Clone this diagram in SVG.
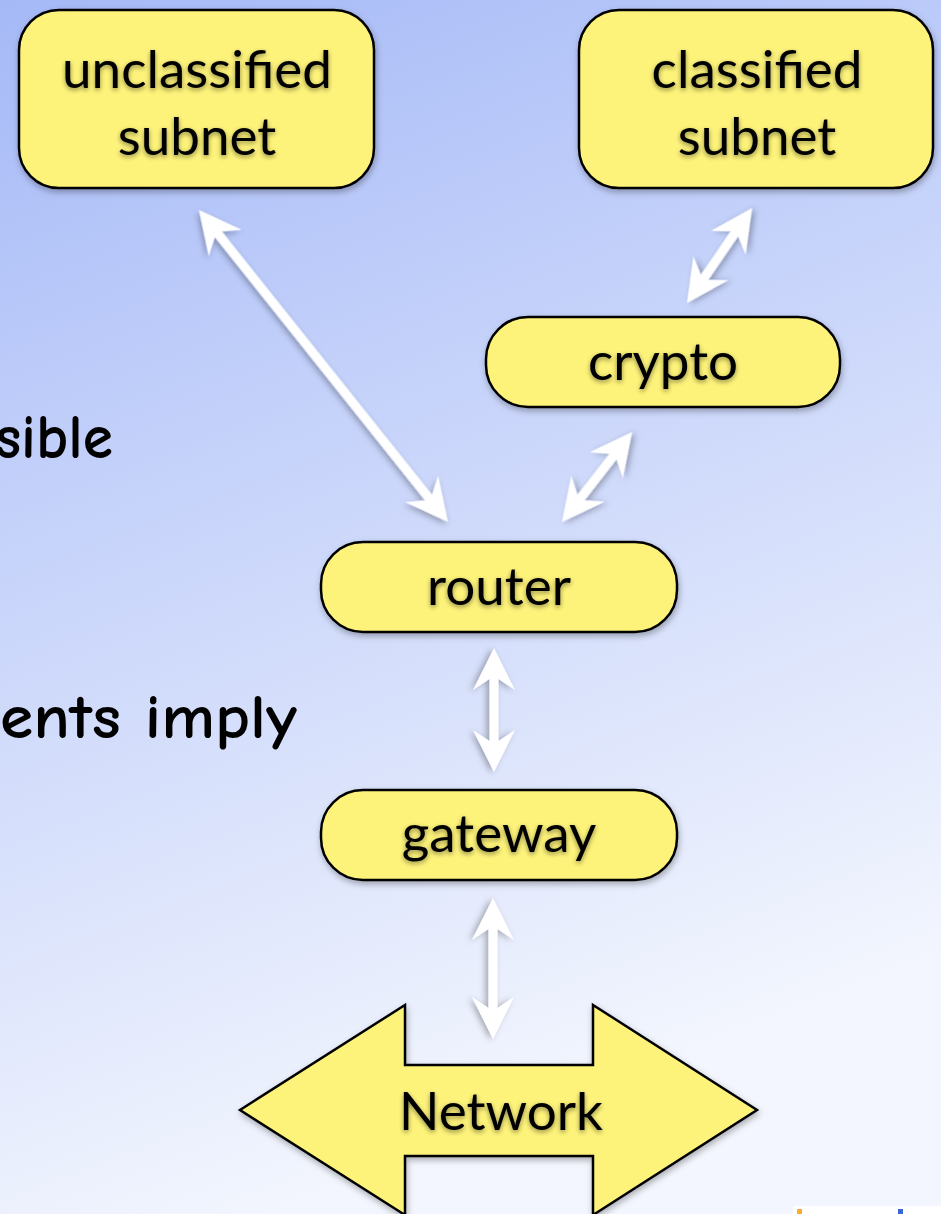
<svg xmlns="http://www.w3.org/2000/svg" width="941" height="1214" viewBox="0 0 941 1214">
  <defs>
    <linearGradient id="bg" x1="0" y1="0" x2="0.3" y2="1">
      <stop offset="0" stop-color="#a5b9f7"/>
      <stop offset="1" stop-color="#f3f6fe"/>
    </linearGradient>
    <filter id="shadow" x="-20%" y="-20%" width="140%" height="140%">
      <feDropShadow dx="1" dy="3" stdDeviation="3" flood-color="#000" flood-opacity="0.3"/>
    </filter>
    <filter id="tshadow" x="-10%" y="-20%" width="120%" height="150%">
      <feDropShadow dx="0" dy="2" stdDeviation="2.5" flood-color="#000" flood-opacity="0.45"/>
    </filter>
  </defs>
  <style>
    .node { fill: #fef37a; stroke: #000; stroke-width: 2.5; filter: url(#shadow); }
    .label { font-family: Lato, "Open Sans", sans-serif; font-size: 53px; fill: #000; text-anchor: middle; filter: url(#tshadow); }
    .side { font-family: "Comic Sans MS", "Comic Neue", Lato, sans-serif; font-size: 63px; font-weight: bold; fill: #000; }
    .arrow { fill: #fff; filter: url(#shadow); }
  </style>
  <rect x="0" y="0" width="941" height="1214" fill="url(#bg)"/>

  <text class="side" x="-5" y="458" textLength="118" lengthAdjust="spacingAndGlyphs">sible</text>
  <text class="side" x="0" y="738" textLength="297" lengthAdjust="spacingAndGlyphs">ents imply</text>

  <g id="connectors">
    <path class="arrow" transform="translate(199,210) rotate(51.4)" d="M0,0 L42,-21 L31,-4.5 L368,-4.5 L357,-21 L399,0 L357,21 L368,4.5 L31,4.5 L42,21 Z"/>
    <path class="arrow" transform="translate(687,303) rotate(-55.6)" d="M0,0 L42,-21 L31,-4.5 L84,-4.5 L73,-21 L115,0 L73,21 L84,4.5 L31,4.5 L42,21 Z"/>
    <path class="arrow" transform="translate(562,522) rotate(-52.1)" d="M0,0 L42,-21 L31,-4.5 L83,-4.5 L72,-21 L114,0 L72,21 L83,4.5 L31,4.5 L42,21 Z"/>
    <path class="arrow" transform="translate(494,648) rotate(90)" d="M0,0 L42,-21 L31,-4.5 L93,-4.5 L82,-21 L124,0 L82,21 L93,4.5 L31,4.5 L42,21 Z"/>
    <path class="arrow" transform="translate(493,898) rotate(90)" d="M0,0 L42,-21 L31,-4.5 L110,-4.5 L99,-21 L141,0 L99,21 L110,4.5 L31,4.5 L42,21 Z"/>
  </g>

  <g id="unclassified">
    <rect class="node" x="19" y="10" width="355" height="178" rx="40" ry="40"/>
    <text class="label" x="197" y="88">unclassified</text>
    <text class="label" x="197" y="155">subnet</text>
  </g>

  <g id="classified">
    <rect class="node" x="579" y="10" width="354" height="178" rx="40" ry="40"/>
    <text class="label" x="757" y="88">classified</text>
    <text class="label" x="757" y="155">subnet</text>
  </g>

  <g id="crypto">
    <rect class="node" x="486" y="317" width="354" height="90" rx="42" ry="42"/>
    <text class="label" x="663" y="380">crypto</text>
  </g>

  <g id="router">
    <rect class="node" x="321" y="542" width="356" height="90" rx="42" ry="42"/>
    <text class="label" x="499" y="605">router</text>
  </g>

  <g id="gateway">
    <rect class="node" x="321" y="790" width="356" height="90" rx="42" ry="42"/>
    <text class="label" x="499" y="852">gateway</text>
  </g>

  <g id="network">
    <polygon class="node" points="240,1110 405,1005 405,1065 593,1065 593,1005 757,1110 593,1215 593,1156 405,1156 405,1215"/>
    <text class="label" x="501" y="1130">Network</text>
  </g>

  <rect x="793" y="1206" width="148" height="8" fill="#fff"/>
  <rect x="797" y="1209" width="5" height="5" fill="#fbac2e"/>
  <rect x="898" y="1209" width="5" height="5" fill="#3a66d6"/>
</svg>
